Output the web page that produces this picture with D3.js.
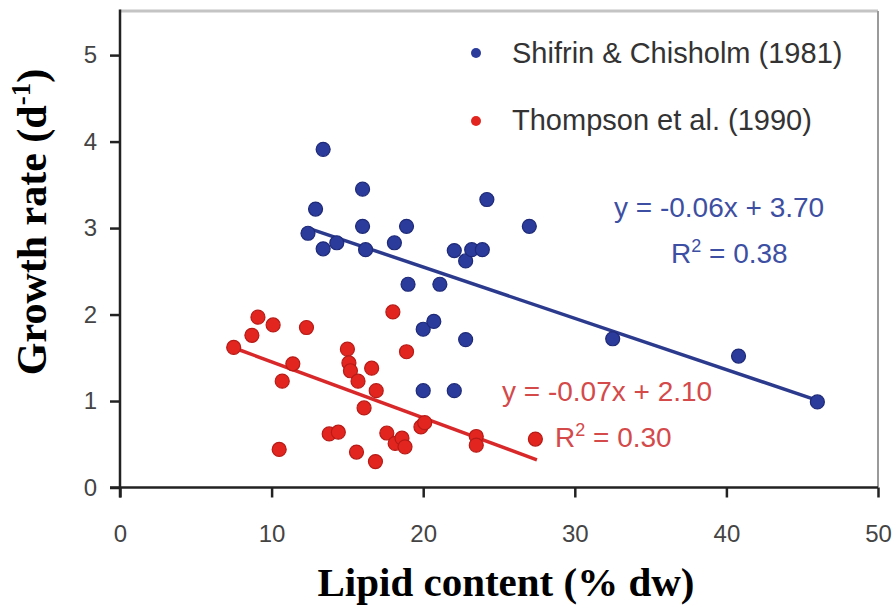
<!DOCTYPE html>
<html>
<head>
<meta charset="utf-8">
<script src="https://cdn.jsdelivr.net/npm/d3@7"></script>
<style>
  body { margin: 0; background: #fff; }
  svg { display: block; }
</style>
</head>
<body>
<svg id="chart" width="895" height="607"></svg>
<script>
// data
var shifrinX = [13.4, 12.9, 12.4, 13.4, 14.3, 16.0, 16.0, 16.2, 18.1, 18.9, 19.0, 20.0, 20.7, 21.1, 20.0, 22.05, 22.05, 22.8, 23.2, 23.9, 24.2, 22.8, 27.0, 32.5, 40.8, 46.0];
var shifrinY = [3.91, 3.22, 2.94, 2.76, 2.83, 3.45, 3.02, 2.75, 2.83, 3.02, 2.35, 1.83, 1.92, 2.35, 1.12, 2.74, 1.12, 2.62, 2.75, 2.75, 3.33, 1.71, 3.02, 1.72, 1.52, 0.99];
var thompsonX = [7.5, 8.7, 9.1, 10.1, 12.3, 11.4, 10.7, 10.5, 13.8, 14.4, 15.6, 16.85, 15.0, 15.1, 15.2, 15.7, 16.6, 16.9, 16.1, 18.0, 18.9, 17.6, 18.15, 18.6, 18.8, 19.85, 20.1, 23.5, 23.5, 27.4];
var thompsonY = [1.62, 1.76, 1.97, 1.88, 1.85, 1.43, 1.23, 0.44, 0.62, 0.64, 0.41, 0.30, 1.60, 1.44, 1.35, 1.23, 1.38, 1.12, 0.92, 2.03, 1.57, 0.63, 0.51, 0.57, 0.47, 0.70, 0.75, 0.59, 0.49, 0.56];
// trend line end points
var shifrinFitX = [12.4, 45.95];
var shifrinFitY = [3.0, 1.01];
var thompsonFitX = [7.9, 27.5];
var thompsonFitY = [1.59, 0.32];

var xTicks = [0, 10, 20, 30, 40, 50];
var yTicks = [0, 1, 2, 3, 4, 5];
var legendNames = ['Shifrin & Chisholm (1981)', 'Thompson et al. (1990)'];
var eqShifrin = ['y = -0.06x + 3.70', '0.38'];
var eqThompson = ['y = -0.07x + 2.10', '0.30'];

var blue = '#2b3b9c', red = '#e2261f';
var W = 895, H = 607;
var yTop = 5.51; // frame top sits above the last tick

var svg = d3.select('#chart');
var x = d3.scaleLinear().domain([0, 50]).range([120, 878]);
var y = d3.scaleLinear().domain([0, yTop]).range([487.5, 11]);

// frame top / right
svg.append('line')
  .attr('x1', x(0)).attr('x2', x(50)).attr('y1', y(yTop)).attr('y2', y(yTop))
  .style('stroke', '#c4c4c4').style('stroke-width', 3);
svg.append('line')
  .attr('x1', x(50)).attr('x2', x(50)).attr('y1', y(yTop)).attr('y2', y(0))
  .style('stroke', '#9a9a9a').style('stroke-width', 2);

// axes
var xAxis = svg.append('g').attr('transform', 'translate(0,' + y(0) + ')')
  .call(d3.axisBottom(x).tickValues(xTicks).tickFormat(d3.format('d')).tickSize(10).tickSizeOuter(0).tickPadding(27));
var yAxis = svg.append('g').attr('transform', 'translate(' + x(0) + ',0)')
  .call(d3.axisLeft(y).tickValues(yTicks).tickFormat(d3.format('d')).tickSize(10).tickSizeOuter(0).tickPadding(13));

[xAxis, yAxis].forEach(function(g){
  g.select('.domain').remove();
  g.selectAll('.tick line').style('stroke', '#222').style('stroke-width', 2.5);
  g.selectAll('.tick text').style('font-family', 'Liberation Sans, Arial, sans-serif')
    .style('font-size', '24px').style('fill', '#444');
});
svg.append('line').attr('x1', x(0) - 10).attr('x2', x(50)).attr('y1', y(0)).attr('y2', y(0))
  .style('stroke', '#222').style('stroke-width', 2.5);
svg.append('line').attr('x1', x(0)).attr('x2', x(0)).attr('y1', y(yTop) - 1.5).attr('y2', y(0) + 10)
  .style('stroke', '#222').style('stroke-width', 2.5);

// trend lines
var fitLine = d3.line().x(function(d){ return x(d[0]); }).y(function(d){ return y(d[1]); });
svg.append('path').datum(d3.zip(shifrinFitX, shifrinFitY)).attr('d', fitLine)
  .style('fill', 'none').style('stroke', '#2c3a8e').style('stroke-width', 3.5);
svg.append('path').datum(d3.zip(thompsonFitX, thompsonFitY)).attr('d', fitLine)
  .style('fill', 'none').style('stroke', '#d9282a').style('stroke-width', 3.5);

// points
function drawPoints(xs, ys, fill, stroke){
  svg.append('g').selectAll('circle').data(d3.zip(xs, ys)).join('circle')
    .attr('cx', function(d){ return x(d[0]); })
    .attr('cy', function(d){ return y(d[1]); })
    .attr('r', 7)
    .style('fill', fill).style('stroke', stroke).style('stroke-width', 1.2);
}
drawPoints(shifrinX, shifrinY, blue, '#1e2a78');
drawPoints(thompsonX, thompsonY, red, '#b81a16');

// legend
var legend = svg.append('g').style('font-family', 'Liberation Sans, Arial, sans-serif');
[[blue, 53, 63], [red, 121, 130]].forEach(function(l, i){
  legend.append('circle').attr('cx', 476).attr('cy', l[1]).attr('r', 5).style('fill', l[0]);
  legend.append('text').attr('x', 512).attr('y', l[2]).text(legendNames[i])
    .style('font-size', '29px').style('fill', '#333');
});

// equations
function equation(lines, x0, x1, yb, col){
  var g = svg.append('g').style('font-family', 'Liberation Sans, Arial, sans-serif')
    .style('font-size', '28px').style('fill', col);
  g.append('text').attr('x', x0).attr('y', yb).text(lines[0]);
  var t = g.append('text').attr('x', x1).attr('y', yb + 46);
  t.append('tspan').text('R');
  t.append('tspan').attr('dy', -11).style('font-size', '18px').text('2');
  t.append('tspan').attr('dy', 11).text(' = ' + lines[1]);
}
equation(eqShifrin, 614, 671, 217, '#3d4fa3');
equation(eqThompson, 502, 555, 401, '#d44a4a');

// axis titles
var serif = 'Liberation Serif, Times New Roman, serif';
svg.append('text').attr('x', 506).attr('y', 596).attr('text-anchor', 'middle')
  .style('font-family', serif).style('font-weight', 'bold').style('font-size', '41px')
  .text('Lipid content (% dw)');
var yt = svg.append('text').attr('transform', 'translate(46,222) rotate(-90)').attr('text-anchor', 'middle')
  .style('font-family', serif).style('font-weight', 'bold').style('font-size', '42px');
yt.append('tspan').text('Growth rate (d');
yt.append('tspan').attr('dy', -16).style('font-size', '27px').text('-1');
yt.append('tspan').attr('dy', 16).text(')');
</script>
</body>
</html>
